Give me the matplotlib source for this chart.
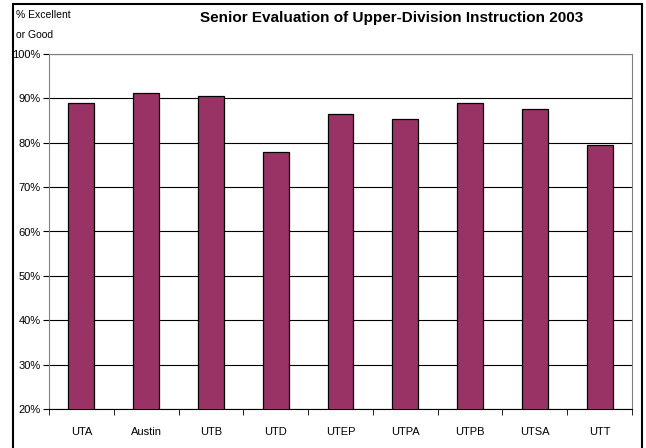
import matplotlib.pyplot as plt
from matplotlib.patches import Rectangle
import numpy as np

plt.rcParams['font.family'] = ['Liberation Sans Narrow', 'Liberation Sans', 'DejaVu Sans']

campuses = ['UTA', 'Austin', 'UTB', 'UTD', 'UTEP', 'UTPA', 'UTPB', 'UTSA', 'UTT']
pct_good = [89.0, 91.1, 90.6, 77.9, 86.5, 85.3, 88.9, 87.6, 79.6]
y_ticks = [20, 30, 40, 50, 60, 70, 80, 90, 100]

fig = plt.figure(figsize=(6.46, 4.48), dpi=100)
ax = fig.add_axes([49/646, 1 - 409/448, (632 - 49)/646, (409 - 54)/448])

x = np.arange(len(campuses))
ax.bar(x, pct_good, width=0.4, bottom=0, color='#993366', edgecolor='black',
       linewidth=0.9, zorder=3)

ax.set_ylim(20, 100)
ax.set_xlim(-0.5, len(campuses) - 0.5)
ax.set_yticks(y_ticks)
ax.set_yticklabels([f'{v}%' for v in y_ticks], fontsize=8)
ax.yaxis.grid(True, color='black', linewidth=0.8, zorder=1)

# category labels between tick marks
ax.set_xticks(x)
ax.set_xticklabels(campuses, fontsize=8)
ax.tick_params(axis='x', length=0, pad=13)
ax.set_xticks(np.arange(len(campuses) + 1) - 0.5, minor=True)
ax.tick_params(axis='x', which='minor', length=4, direction='out', color='black')
ax.tick_params(axis='y', length=4, direction='out', color='black', pad=2)

for side in ['top', 'right']:
    ax.spines[side].set_color('#808080')
ax.spines['left'].set_color('#808080')
ax.spines['bottom'].set_color('black')

fig.text(392/646, 1 - 18/448, 'Senior Evaluation of Upper-Division Instruction 2003',
         ha='center', va='center', fontsize=11, fontweight='bold')
fig.text(16/646, 1 - 15/448, '% Excellent', ha='left', va='center', fontsize=7.5)
fig.text(16/646, 1 - 35/448, 'or Good', ha='left', va='center', fontsize=7.5)

# outer frame, open at the bottom edge like the reference
fig.patches.append(Rectangle((13/646, -0.05), (642 - 13)/646, 1.05 - 4/448,
                             transform=fig.transFigure, fill=False,
                             edgecolor='black', linewidth=1.5))

plt.savefig('out.png', dpi=100)
